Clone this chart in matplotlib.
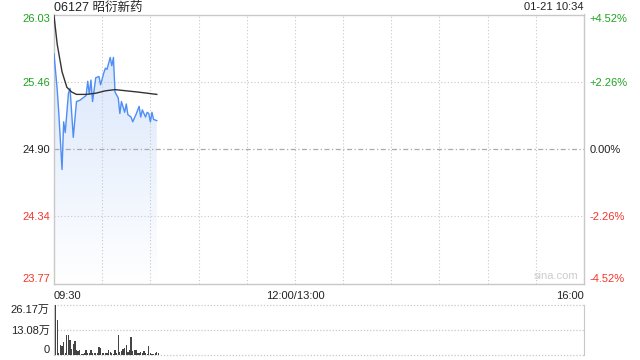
#######################################################
# Imports
#######################################################

import numpy as np
import matplotlib
matplotlib.use('Agg')
import matplotlib.pyplot as plt
from matplotlib.colors import LinearSegmentedColormap

plt.rcParams['font.family'] = ['Liberation Sans', 'Noto Sans CJK SC', 'DejaVu Sans']



#######################################################
# Data (minutes after 09:30, prices in HKD, volume in 万)
#######################################################

title = '06127 昭衍新药'
stamp = '01-21 10:34'
prev_close = 24.90

price_minutes = [0, 2, 3, 5, 6, 7, 9, 10, 12, 14, 16, 18, 20, 21, 22, 23, 24, 26,
                 28, 29, 31, 32, 33, 35, 36, 37, 38, 40, 41, 42, 44, 45, 46, 48,
                 49, 51, 53, 54, 55, 57, 58, 59, 60, 61, 62, 64]
price_values = [25.70, 25.40, 25.20, 24.73, 25.13, 25.04, 25.37, 25.41, 25.00, 25.30,
                25.31, 25.33, 25.35, 25.47, 25.36, 25.48, 25.30, 25.50, 25.51, 25.44,
                25.54, 25.58, 25.57, 25.67, 25.60, 25.67, 25.38, 25.33, 25.20, 25.30,
                25.21, 25.28, 25.19, 25.17, 25.13, 25.19, 25.26, 25.17, 25.23, 25.17,
                25.21, 25.20, 25.13, 25.21, 25.15, 25.14]

avg_minutes = [0, 2, 5, 8, 11, 14, 20, 26, 32, 38, 45, 52, 58, 64]
avg_values = [26.02, 25.78, 25.55, 25.42, 25.38, 25.36, 25.36, 25.37, 25.39, 25.40,
              25.39, 25.38, 25.37, 25.36]

volume_values = [26.17, 18.5, 0.8, 5.2, 4.9, 6.9, 1.0, 10.7, 10.7, 7.8,
                 3.0, 6.0, 7.5, 2.4, 2.0, 2.4, 0.5, 0.3, 1.0, 2.4,
                 1.2, 1.0, 2.7, 1.0, 1.0, 1.0, 1.0, 4.3, 3.9, 1.2,
                 1.0, 1.2, 1.0, 2.4, 1.5, 1.0, 0.3, 2.4, 1.0, 10.7,
                 1.5, 2.0, 3.0, 3.6, 5.2, 1.5, 2.4, 9.6, 2.0, 2.7,
                 2.4, 1.0, 1.0, 1.5, 1.0, 2.0, 1.0, 0.5, 4.8, 1.0,
                 0.5, 0.5, 1.2, 1.5, 1.2]

price_ticks = [26.03, 25.46, 24.90, 24.34, 23.77]
pct_labels = ['+4.52%', '+2.26%', '0.00%', '-2.26%', '-4.52%']
volume_ticks = [0, 13.08, 26.17]
volume_labels = ['0', '13.08万', '26.17万']
time_ticks = [0, 150, 330]
time_labels = ['09:30', '12:00/13:00', '16:00']



#######################################################
# Style
#######################################################

GREEN = '#1ea31e'
RED = '#f2352a'
BLUE = '#4f8ef5'
BORDER = '#c8c8c8'
GRID = '#c8c8c8'
label_colors = [GREEN, GREEN, '#222222', RED, RED]



#######################################################
# Figure / axes
#######################################################

fig = plt.figure(figsize=(6.4, 3.6), dpi=100)
W, H = 640.0, 360.0
ax = fig.add_axes([54 / W, 1 - 284 / H, 530 / W, 269.5 / H])
axv = fig.add_axes([54 / W, 1 - 355 / H, 530 / W, 50 / H])

for s in ax.spines.values():
    s.set_color(BORDER)
    s.set_linewidth(1.0)

# gradient fill under price line
poly = ax.fill_between(price_minutes, price_values, price_ticks[-1],
                       facecolor='none', edgecolor='none')
cmap = LinearSegmentedColormap.from_list('blues', ['#d4e3fb', '#ffffff'])
grad = np.linspace(0, 1, 256).reshape(-1, 1)
img = ax.imshow(grad, cmap=cmap, aspect='auto', zorder=1,
                extent=[0, 330, price_ticks[-1], price_ticks[0]], origin='upper')
img.set_clip_path(poly.get_paths()[0], transform=ax.transData)
ax.set_xlim(0, 330)
ax.set_ylim(price_ticks[-1], price_ticks[0])

# grid (drawn over the fill)
for k in range(1, 11):
    ax.axvline(k * 30, color=GRID, lw=0.8, ls=(0, (1, 2)), zorder=2)
for p in price_ticks[1:-1]:
    if p == prev_close:
        ax.axhline(p, color='#aaaaaa', lw=0.9, ls=(0, (4, 2, 1, 2)), zorder=2)
    else:
        ax.axhline(p, color=GRID, lw=0.8, ls=(0, (1, 2)), zorder=2)

ax.plot(price_minutes, price_values, color=BLUE, lw=1.0, zorder=3)
ax.plot(avg_minutes, avg_values, color='#333333', lw=1.0, zorder=4)

# left price ticks
ax.set_yticks(price_ticks)
ax.set_yticklabels(['%.2f' % p for p in price_ticks], fontsize=8)
ax.tick_params(axis='y', length=0, pad=2.5)
for lab, c in zip(ax.get_yticklabels(), label_colors):
    lab.set_color(c)
ax.get_yticklabels()[0].set_va('top')
ax.get_yticklabels()[-1].set_va('bottom')

# right percent ticks
axr = ax.twinx()
axr.set_ylim(ax.get_ylim())
axr.set_yticks(price_ticks)
axr.set_yticklabels(pct_labels, fontsize=8)
axr.tick_params(axis='y', length=0, pad=4)
for lab, c in zip(axr.get_yticklabels(), label_colors):
    lab.set_color(c)
axr.get_yticklabels()[0].set_va('top')
axr.get_yticklabels()[-1].set_va('bottom')
for s in axr.spines.values():
    s.set_visible(False)

# time ticks
ax.set_xticks(time_ticks)
ax.set_xticklabels(time_labels, fontsize=8, color='#222222')
ax.tick_params(axis='x', length=0, pad=5)
ax.get_xticklabels()[0].set_ha('left')
ax.get_xticklabels()[-1].set_ha('right')

ax.text(0.99, 0.012, 'sina.com', transform=ax.transAxes, ha='right', va='bottom',
        fontsize=8, color='#cccccc')

fig.text(54 / W, 1 - 7.5 / H, title, fontsize=9, ha='left', va='center', color='#222222')
fig.text(584 / W, 1 - 7.5 / H, stamp, fontsize=8, ha='right', va='center', color='#222222')



#######################################################
# Volume panel
#######################################################

minutes = np.arange(len(volume_values))
axv.bar(minutes + 1.0, volume_values, width=0.8, color='#444444', linewidth=0, zorder=3)
axv.set_xlim(0, 330)
axv.set_ylim(0, volume_ticks[-1])
axv.set_xticks([])
axv.spines['top'].set_visible(False)
axv.spines['bottom'].set_visible(False)
axv.spines['left'].set_color(BORDER)
axv.spines['right'].set_color(BORDER)
axv.spines['left'].set_zorder(1)
for v in volume_ticks:
    axv.axhline(v, color=GRID, lw=0.9, ls=(0, (1, 1.5)), zorder=1, clip_on=False)
axv.set_yticks(volume_ticks)
axv.set_yticklabels(volume_labels, fontsize=8, color='#222222')
axv.tick_params(axis='y', length=0, pad=3)
axv.get_yticklabels()[0].set_va('bottom')
axv.get_yticklabels()[-1].set_va('top')

fig.savefig('out.png', dpi=100)
